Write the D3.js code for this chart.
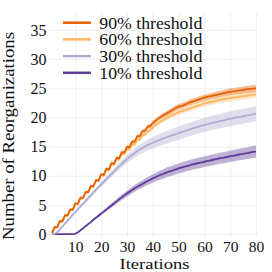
<!DOCTYPE html>
<html>
<head>
<meta charset="utf-8">
<script src="https://cdn.jsdelivr.net/npm/d3@7"></script>
<style>
  body { margin: 0; background: #fff; }
</style>
</head>
<body>
<svg id="chart" width="272" height="272" font-family="Liberation Serif"></svg>
<script>
// iterations on the x axis
const iterations = d3.range(1, 81);

// series labels (legend order)
const seriesNames = ["90% threshold", "60% threshold", "30% threshold", "10% threshold"];

// mean number of reorganizations per iteration
const mean90 = [0.2,1.25,1.2,2.25,2.2,3.25,3.2,4.25,4.2,5.25,
  5.2,6.25,6.2,7.25,7.2,8.25,8.2,9.25,9.2,10.25,
  10.15,11.2,11.1,12.15,12.05,13.1,13.0,14.05,13.95,14.95,
  14.9,15.85,15.85,16.8,16.8,17.65,17.7,18.4,18.5,19.05,
  19.4,19.75,20.05,20.35,20.6,20.85,21.1,21.35,21.6,21.85,
  21.95,22.1,22.3,22.5,22.65,22.8,22.95,23.1,23.25,23.4,
  23.5,23.6,23.7,23.8,23.9,24.0,24.1,24.2,24.3,24.4,
  24.45,24.5,24.6,24.65,24.7,24.8,24.85,24.9,24.95,25.0];
const mean60 = [0.1,1.15,1.1,2.15,2.1,3.15,3.1,4.15,4.1,5.15,
  5.1,6.15,6.1,7.15,7.1,8.15,8.1,9.15,9.05,10.1,
  10.0,11.0,10.9,11.95,11.85,12.85,12.75,13.75,13.65,14.6,
  14.5,15.4,15.35,16.2,16.2,16.95,17.0,17.65,17.8,18.3,
  18.7,19.0,19.3,19.55,19.8,20.05,20.3,20.5,20.7,20.9,
  21.05,21.2,21.35,21.5,21.65,21.8,21.95,22.1,22.25,22.4,
  22.5,22.6,22.7,22.8,22.9,23.0,23.1,23.2,23.25,23.3,
  23.4,23.45,23.5,23.6,23.65,23.7,23.8,23.85,23.9,23.95];
const mean30 = [0,0.05,0.3,0.8,1.3,1.8,2.3,2.8,3.3,3.8,
  4.25,4.75,5.2,5.7,6.15,6.65,7.1,7.6,8.05,8.5,
  8.95,9.4,9.85,10.3,10.75,11.2,11.6,12.05,12.45,12.85,
  13.2,13.55,13.9,14.2,14.5,14.75,15.0,15.25,15.45,15.65,
  15.85,16.05,16.2,16.4,16.55,16.7,16.85,17.0,17.15,17.3,
  17.45,17.6,17.75,17.9,18.05,18.2,18.3,18.45,18.6,18.7,
  18.8,18.95,19.05,19.15,19.25,19.35,19.45,19.55,19.65,19.75,
  19.85,19.95,20.05,20.1,20.2,20.3,20.4,20.45,20.55,20.65];
const mean10 = [0,0,0,0,0,0,0,0,0,0.05,
  0.3,0.65,1.0,1.35,1.7,2.05,2.45,2.8,3.15,3.5,
  3.85,4.2,4.55,4.9,5.25,5.6,5.95,6.3,6.6,6.95,
  7.25,7.55,7.85,8.1,8.35,8.6,8.85,9.1,9.3,9.55,
  9.75,9.95,10.15,10.3,10.5,10.65,10.8,10.95,11.1,11.25,
  11.4,11.5,11.65,11.75,11.9,12.0,12.1,12.2,12.3,12.4,
  12.5,12.6,12.7,12.8,12.9,13.0,13.05,13.15,13.25,13.35,
  13.4,13.5,13.6,13.7,13.75,13.85,13.9,14.0,14.1,14.15];

// half-width of the shaded band per iteration
const spread90 = [0.1,0.1,0.12,0.12,0.14,0.14,0.15,0.15,0.16,0.16,
  0.17,0.17,0.18,0.18,0.19,0.19,0.2,0.2,0.21,0.21,
  0.22,0.22,0.23,0.23,0.24,0.24,0.25,0.26,0.27,0.28,
  0.29,0.3,0.31,0.32,0.33,0.34,0.35,0.36,0.37,0.38,
  0.39,0.4,0.41,0.42,0.43,0.44,0.45,0.46,0.47,0.48,
  0.48,0.49,0.49,0.5,0.5,0.51,0.51,0.52,0.52,0.53,
  0.53,0.54,0.54,0.55,0.55,0.56,0.56,0.57,0.57,0.58,
  0.58,0.58,0.59,0.59,0.6,0.6,0.6,0.61,0.61,0.62];
const spread60 = [0.08,0.08,0.1,0.1,0.12,0.12,0.13,0.13,0.14,0.14,
  0.15,0.15,0.16,0.16,0.17,0.17,0.18,0.18,0.19,0.19,
  0.2,0.2,0.21,0.21,0.22,0.22,0.23,0.24,0.25,0.26,
  0.27,0.28,0.29,0.3,0.31,0.32,0.33,0.34,0.35,0.36,
  0.37,0.38,0.39,0.4,0.41,0.42,0.43,0.44,0.45,0.46,
  0.46,0.47,0.47,0.48,0.48,0.49,0.49,0.5,0.5,0.51,
  0.51,0.52,0.52,0.53,0.53,0.54,0.54,0.55,0.55,0.56,
  0.56,0.56,0.57,0.57,0.58,0.58,0.58,0.59,0.59,0.6];
const spread30 = [0,0.02,0.05,0.08,0.1,0.12,0.14,0.16,0.18,0.2,
  0.22,0.24,0.26,0.28,0.3,0.32,0.34,0.36,0.38,0.4,
  0.43,0.46,0.49,0.52,0.55,0.58,0.61,0.64,0.67,0.7,
  0.73,0.76,0.79,0.82,0.85,0.88,0.91,0.94,0.97,1.0,
  1.02,1.04,1.06,1.08,1.1,1.11,1.12,1.13,1.14,1.15,
  1.16,1.17,1.17,1.18,1.18,1.19,1.19,1.2,1.2,1.21,
  1.21,1.22,1.22,1.23,1.23,1.24,1.24,1.25,1.25,1.26,
  1.26,1.27,1.27,1.28,1.28,1.29,1.29,1.3,1.3,1.3];
const spread10 = [0,0,0,0,0,0,0,0,0,0.02,
  0.05,0.08,0.1,0.12,0.15,0.17,0.2,0.22,0.25,0.27,
  0.3,0.32,0.35,0.37,0.4,0.42,0.45,0.47,0.5,0.52,
  0.54,0.56,0.58,0.6,0.62,0.64,0.66,0.68,0.7,0.72,
  0.74,0.76,0.78,0.8,0.82,0.83,0.84,0.85,0.86,0.87,
  0.88,0.88,0.89,0.89,0.9,0.9,0.91,0.91,0.92,0.92,
  0.93,0.93,0.94,0.94,0.95,0.95,0.96,0.96,0.97,0.97,
  0.98,0.98,0.99,0.99,1.0,1.0,1.01,1.02,1.03,1.05];

// axis ticks
const xTicks = [10, 20, 30, 40, 50, 60, 70, 80];
const yTicks = [0, 5, 10, 15, 20, 25, 30, 35];

const colors = ["#e66101", "#fdb863", "#b2abd2", "#5e3c99"];

const series = [
  {name: seriesNames[0], mean: mean90, spread: spread90, color: colors[0]},
  {name: seriesNames[1], mean: mean60, spread: spread60, color: colors[1]},
  {name: seriesNames[2], mean: mean30, spread: spread30, color: colors[2]},
  {name: seriesNames[3], mean: mean10, spread: spread10, color: colors[3]}
];

const FONT = "Liberation Serif";
const svg = d3.select("#chart");
const panel = {left: 49.5, right: 256, top: 13, bottom: 237};

const x = d3.scaleLinear().domain([0, 80]).range([panel.left, panel.right]);
const y = d3.scaleLinear().domain([-0.5, 37.9]).range([panel.bottom, panel.top]);

// x axis + vertical grid
const xAxis = svg.append("g")
    .attr("transform", "translate(0," + panel.bottom + ")")
    .call(d3.axisBottom(x).tickValues(xTicks).tickSize(-(panel.bottom - panel.top)).tickPadding(4));
xAxis.attr("font-family", FONT).attr("font-size", 15.5);
xAxis.select(".domain").remove();
xAxis.selectAll("line").attr("stroke", "#ebebeb").attr("stroke-width", 0.8);
xAxis.selectAll("text").attr("fill", "#111");

// y axis + horizontal grid
const yAxis = svg.append("g")
    .attr("transform", "translate(" + panel.left + ",0)")
    .call(d3.axisLeft(y).tickValues(yTicks).tickSize(-(panel.right - panel.left)).tickPadding(3));
yAxis.attr("font-family", FONT).attr("font-size", 16);
yAxis.select(".domain").remove();
yAxis.selectAll("line").attr("stroke", "#ebebeb").attr("stroke-width", 0.8);
yAxis.selectAll("text").attr("fill", "#111");

// bands
const area = d3.area()
    .x((d, i) => x(iterations[i]))
    .y0(d => y(d.lo))
    .y1(d => y(d.hi));

const line = d3.line()
    .x((d, i) => x(iterations[i]))
    .y(d => y(d));

const drawOrder = series.slice().reverse();

svg.append("g").selectAll("path")
    .data(drawOrder)
    .join("path")
    .attr("d", s => area(s.mean.map((m, i) => ({lo: m - s.spread[i], hi: m + s.spread[i]}))))
    .attr("fill", s => s.color)
    .attr("fill-opacity", 0.4);

svg.append("g").selectAll("path")
    .data(drawOrder)
    .join("path")
    .attr("d", s => line(s.mean))
    .attr("fill", "none")
    .attr("stroke", s => s.color)
    .attr("stroke-width", 1.8)
    .attr("stroke-linejoin", "round");

// legend
const legend = svg.append("g").attr("font-family", FONT);
series.forEach((s, i) => {
    const ly = 22.7 + i * 16.7;
    legend.append("line")
        .attr("x1", 63).attr("x2", 91)
        .attr("y1", ly).attr("y2", ly)
        .attr("stroke", s.color).attr("stroke-width", 2.5);
    legend.append("text")
        .attr("x", 99.3).attr("y", ly + 6)
        .attr("font-size", 16)
        .attr("fill", "#111")
        .attr("textLength", 103)
        .attr("lengthAdjust", "spacingAndGlyphs")
        .text(s.name);
});

// axis titles
svg.append("text")
    .attr("x", 154.5).attr("y", 269)
    .attr("text-anchor", "middle")
    .attr("font-family", FONT)
    .attr("font-size", 15.5)
    .attr("fill", "#111")
    .attr("textLength", 70)
    .attr("lengthAdjust", "spacingAndGlyphs")
    .text("Iterations");

svg.append("text")
    .attr("transform", "translate(13.5,136) rotate(-90)")
    .attr("text-anchor", "middle")
    .attr("font-family", FONT)
    .attr("font-size", 16)
    .attr("fill", "#111")
    .attr("textLength", 208)
    .attr("lengthAdjust", "spacingAndGlyphs")
    .text("Number of Reorganizations");
</script>
</body>
</html>
